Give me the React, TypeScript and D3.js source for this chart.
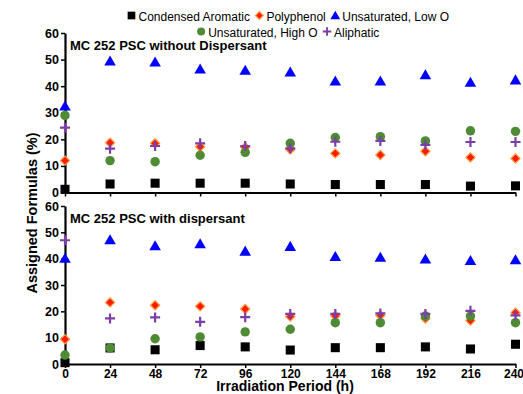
import React, { useEffect, useRef } from "react";
import * as d3 from "d3";

const hours = [0, 24, 48, 72, 96, 120, 144, 168, 192, 216, 240];
const yTicks = [0, 10, 20, 30, 40, 50, 60];
const seriesNames = ["Condensed Aromatic", "Polyphenol", "Unsaturated, Low O", "Unsaturated, High O", "Aliphatic"];
const panelTitles = ["MC 252 PSC without Dispersant", "MC 252 PSC with dispersant"];

// Without dispersant
const woCondensed = [1.2, 3.2, 3.5, 3.5, 3.5, 3.2, 3.0, 3.0, 3.0, 2.4, 2.5];
const woPolyphenol = [12, 18.7, 18.5, 17.2, 17.0, 16.2, 14.7, 14.1, 15.5, 13.2, 12.8];
const woLowO = [32.5, 49.4, 49.0, 46.4, 45.9, 45.3, 41.9, 41.9, 44.2, 41.4, 42.3];
const woHighO = [29, 12, 11.6, 14, 15.1, 18.5, 20.7, 21, 19.4, 23.2, 23];
const woAliphatic = [24.4, 16.5, 17.5, 18.5, 17.5, 16.6, 19.1, 19.4, 17.9, 19, 19];

// With dispersant
const wCondensed = [0.5, 6.1, 5.4, 7.0, 6.5, 5.3, 6.2, 6.2, 6.5, 5.7, 7.5];
const wPolyphenol = [9.4, 23.4, 22.3, 21.9, 20.9, 18.0, 18.3, 18.5, 17.3, 16.5, 19.5];
const wLowO = [40.1, 47.1, 44.8, 45.6, 42.8, 44.6, 40.8, 40.5, 39.8, 39.2, 39.5];
const wHighO = [3.4, 6.1, 9.6, 10.3, 12.2, 13.2, 15.7, 15.7, 18.2, 18.2, 15.7];
const wAliphatic = [47, 17.3, 17.7, 16.0, 17.8, 19.0, 19.0, 19.2, 19.0, 20.2, 18.5];

const panels = [
  [woCondensed, woPolyphenol, woLowO, woHighO, woAliphatic],
  [wCondensed, wPolyphenol, wLowO, wHighO, wAliphatic],
];

const colors = ["#000000", "#ff1a00", "#0000ff", "#4f8a35", "#7a3fa8"];
const shapes = ["square", "diamond", "triangle", "circle", "plus"];

function drawMarker(g: any, shape: string, color: string, x: number, y: number, scale = 1) {
  if (shape === "plus") {
    const s = 5 * scale;
    g.append("path")
      .attr("d", `M${x - s},${y}H${x + s}M${x},${y - s}V${y + s}`)
      .attr("stroke", color)
      .attr("stroke-width", 2.2 * scale)
      .attr("fill", "none");
    return;
  }
  if (shape === "diamond") {
    const s = 4.6 * scale;
    g.append("path")
      .attr("d", `M${x},${y - s}L${x + s},${y}L${x},${y + s}L${x - s},${y}Z`)
      .attr("fill", color)
      .attr("stroke", "#ff9a40")
      .attr("stroke-width", 1.2);
    return;
  }
  const sym =
    shape === "square" ? d3.symbolSquare :
    shape === "triangle" ? d3.symbolTriangle : d3.symbolCircle;
  const size =
    shape === "square" ? 82 :
    shape === "triangle" ? 58 : 70;
  g.append("path")
    .attr("d", d3.symbol().type(sym).size(size * scale * scale)())
    .attr("transform", `translate(${x},${y + (shape === "triangle" ? 1 : 0)})`)
    .attr("fill", color);
}

export default function App() {
  const ref = useRef<SVGSVGElement>(null);
  useEffect(() => {
    const svg = d3.select(ref.current);
    svg.selectAll("*").remove();
    const font = "'Liberation Sans', Arial, sans-serif";
    const x = d3.scaleLinear().domain([0, 240]).range([65, 515.5]);
    const yScales = [
      d3.scaleLinear().domain([0, 60]).range([192.5, 33]),
      d3.scaleLinear().domain([0, 60]).range([364, 206]),
    ];

    yScales.forEach((y, pi) => {
      const gx = svg.append("g").attr("transform", `translate(0,${y(0)})`)
        .call(d3.axisBottom(x).tickValues(hours).tickSize(4).tickSizeOuter(0)
          .tickFormat(pi === 1 ? (d: any) => String(d) : () => ""));
      gx.select(".domain").attr("stroke-width", 2.2);
      gx.selectAll(".tick line").attr("stroke-width", 1.5);
      gx.selectAll("text").attr("font-family", font).attr("font-weight", "bold")
        .attr("font-size", 12).attr("fill", "#000").attr("dy", "0.71em").attr("y", 5.5)
        .attr("dx", (d: any) => (d === 240 ? -2 : 0));

      const gy = svg.append("g").attr("transform", `translate(${x(0)},0)`)
        .call(d3.axisLeft(y).tickValues(yTicks).tickSize(4).tickSizeOuter(0));
      gy.select(".domain").attr("stroke-width", 2.2);
      gy.selectAll(".tick line").attr("stroke-width", 1.5);
      gy.selectAll("text").attr("font-family", font).attr("font-weight", "bold")
        .attr("font-size", 12.5).attr("fill", "#000").attr("x", -6);

      svg.append("text").attr("x", 70).attr("y", y(56) + 6.2)
        .attr("font-family", font).attr("font-weight", "bold").attr("font-size", 13)
        .text(panelTitles[pi]);

      const g = svg.append("g");
      panels[pi].forEach((vals, si) => {
        vals.forEach((v, i) => drawMarker(g, shapes[si], colors[si], x(hours[i]), y(v)));
      });
    });

    svg.append("text")
      .attr("transform", "translate(37,213) rotate(-90)")
      .attr("text-anchor", "middle")
      .attr("font-family", font).attr("font-weight", "bold").attr("font-size", 14.5)
      .text("Assigned Formulas (%)");
    svg.append("text")
      .attr("x", 285).attr("y", 391)
      .attr("text-anchor", "middle")
      .attr("font-family", font).attr("font-weight", "bold").attr("font-size", 14)
      .text("Irradiation Period (h)");

    // Legend: two centered rows
    const legend = svg.append("g");
    const rows = [[0, 1, 2], [3, 4]];
    const rowY = [16, 32];
    const cx = 288;
    rows.forEach((row, ri) => {
      const rg = legend.append("g");
      let cur = 0;
      row.forEach((si, k) => {
        const mx = cur + 4.5;
        drawMarker(rg, shapes[si], colors[si], mx, rowY[ri] - 0.5, 0.85);
        const t = rg.append("text").attr("x", mx + 7).attr("y", rowY[ri] + 4.5)
          .attr("font-family", font).attr("font-size", 12).attr("fill", "#000")
          .text(seriesNames[si]);
        const w = (t.node() as SVGTextElement).getComputedTextLength();
        cur = mx + 7 + w + (k < row.length - 1 ? 5 : 0);
      });
      rg.attr("transform", `translate(${cx - cur / 2},0)`);
    });
  }, []);
  return <svg ref={ref} width={523} height={394} style={{ position: "absolute", left: 0, top: 0, background: "#fff" }} />;
}
